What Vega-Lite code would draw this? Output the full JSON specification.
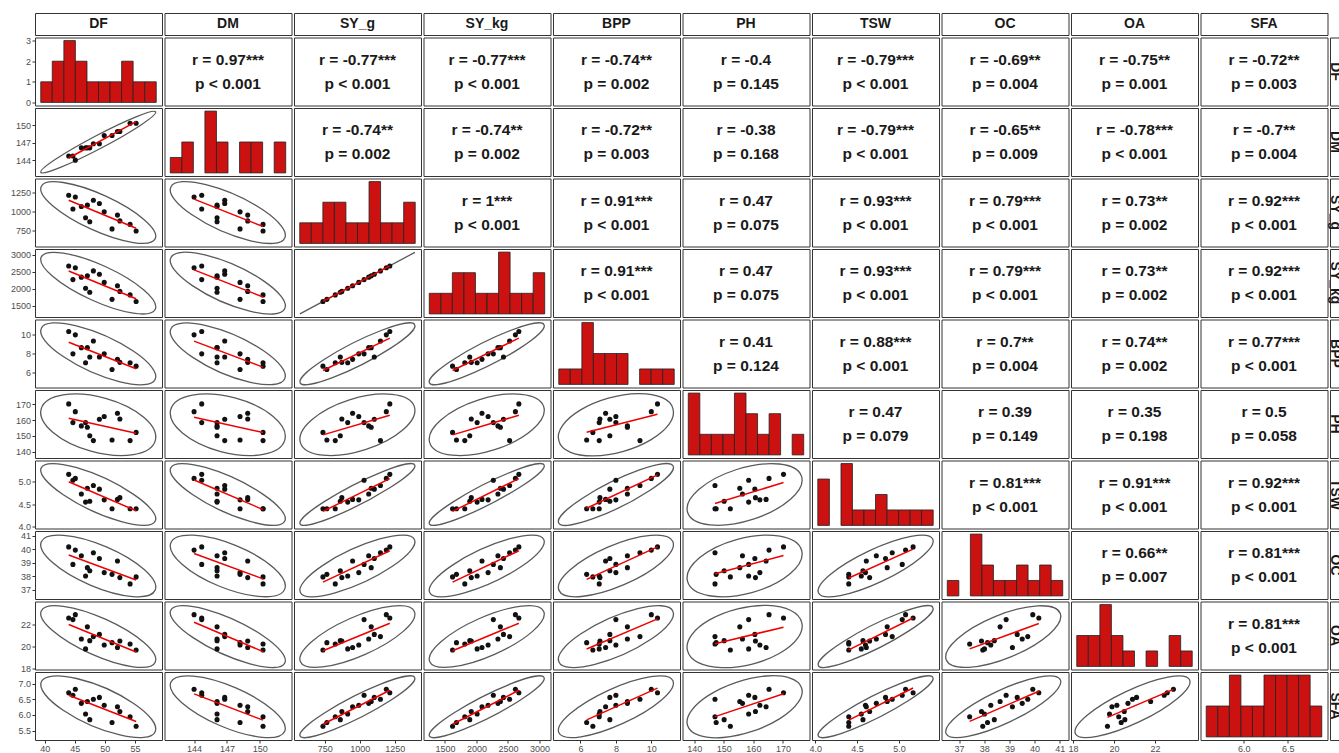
{
"$schema": "https://vega.github.io/schema/vega-lite/v6.json",
"background": "white",
"padding": {"left": 9, "top": 12, "right": 0, "bottom": 0},
"bounds": "flush",
"data": {"values": [
{"DF":44.0,"DM":144.7,"SY_g":1215,"SY_kg":2673,"BPP":10.35,"PH":170.2,"TSW":5.17,"OC":40.17,"OA":22.6,"SFA":6.71},
{"DF":44.7,"DM":144.7,"SY_g":1031,"SY_kg":2268,"BPP":8.0,"PH":158.4,"TSW":5.04,"OC":38.87,"OA":22.45,"SFA":6.63},
{"DF":45.1,"DM":144.0,"SY_g":1190,"SY_kg":2618,"BPP":10.0,"PH":165.3,"TSW":5.08,"OC":39.93,"OA":22.9,"SFA":6.82},
{"DF":46.1,"DM":146.1,"SY_g":1064,"SY_kg":2341,"BPP":8.65,"PH":156.3,"TSW":4.73,"OC":39.51,"OA":20.68,"SFA":6.37},
{"DF":46.8,"DM":146.1,"SY_g":914,"SY_kg":2011,"BPP":7.06,"PH":158.4,"TSW":4.55,"OC":38.01,"OA":19.78,"SFA":6.03},
{"DF":47.1,"DM":146.1,"SY_g":1082,"SY_kg":2380,"BPP":8.65,"PH":155.4,"TSW":4.86,"OC":38.63,"OA":21.79,"SFA":6.43},
{"DF":47.5,"DM":146.1,"SY_g":861,"SY_kg":1894,"BPP":7.66,"PH":150.1,"TSW":4.57,"OC":38.4,"OA":20.53,"SFA":5.85},
{"DF":48.1,"DM":146.8,"SY_g":1148,"SY_kg":2526,"BPP":9.36,"PH":147.0,"TSW":4.92,"OC":39.73,"OA":20.9,"SFA":6.5},
{"DF":49.1,"DM":146.8,"SY_g":1104,"SY_kg":2429,"BPP":7.66,"PH":160.5,"TSW":4.84,"OC":39.31,"OA":21.1,"SFA":6.56},
{"DF":49.9,"DM":148.2,"SY_g":993,"SY_kg":2185,"BPP":8.0,"PH":162.2,"TSW":4.6,"OC":38.26,"OA":20.14,"SFA":6.31},
{"DF":51.2,"DM":148.2,"SY_g":765,"SY_kg":1683,"BPP":6.35,"PH":147.4,"TSW":4.4,"OC":38.13,"OA":20.35,"SFA":5.76},
{"DF":52.1,"DM":148.9,"SY_g":949,"SY_kg":2088,"BPP":7.42,"PH":164.3,"TSW":4.61,"OC":39.12,"OA":19.9,"SFA":6.26},
{"DF":52.5,"DM":148.9,"SY_g":872,"SY_kg":1918,"BPP":7.1,"PH":160.7,"TSW":4.65,"OC":37.89,"OA":20.5,"SFA":6.11},
{"DF":54.2,"DM":150.3,"SY_g":825,"SY_kg":1815,"BPP":7.06,"PH":147.0,"TSW":4.4,"OC":37.42,"OA":20.23,"SFA":5.94},
{"DF":55.2,"DM":150.3,"SY_g":737,"SY_kg":1621,"BPP":6.7,"PH":152.2,"TSW":4.4,"OC":37.94,"OA":19.68,"SFA":5.64}
]},
"datasets": {"hist": [
{"v":"DF","a":43.38,"b":44.62,"n":1},{"v":"DF","a":44.62,"b":45.87,"n":2},{"v":"DF","a":45.87,"b":47.11,"n":3},{"v":"DF","a":47.11,"b":48.36,"n":2},{"v":"DF","a":48.36,"b":49.6,"n":1},{"v":"DF","a":49.6,"b":50.84,"n":1},{"v":"DF","a":50.84,"b":52.09,"n":1},{"v":"DF","a":52.09,"b":53.33,"n":2},{"v":"DF","a":53.33,"b":54.58,"n":1},{"v":"DF","a":54.58,"b":55.82,"n":1},
{"v":"DM","a":143.65,"b":144.35,"n":1},{"v":"DM","a":144.35,"b":145.05,"n":2},{"v":"DM","a":145.75,"b":146.45,"n":4},{"v":"DM","a":146.45,"b":147.15,"n":2},{"v":"DM","a":147.85,"b":148.55,"n":2},{"v":"DM","a":148.55,"b":149.25,"n":2},{"v":"DM","a":149.95,"b":150.65,"n":2},
{"v":"SY_g","a":710.4,"b":763.6,"n":1},{"v":"SY_g","a":763.6,"b":816.7,"n":1},{"v":"SY_g","a":816.7,"b":869.8,"n":2},{"v":"SY_g","a":869.8,"b":922.9,"n":2},{"v":"SY_g","a":922.9,"b":976.1,"n":1},{"v":"SY_g","a":976.1,"b":1029.2,"n":1},{"v":"SY_g","a":1029.2,"b":1082.3,"n":3},{"v":"SY_g","a":1082.3,"b":1135.4,"n":1},{"v":"SY_g","a":1135.4,"b":1188.6,"n":1},{"v":"SY_g","a":1188.6,"b":1241.7,"n":2},
{"v":"SY_kg","a":1562.6,"b":1679.5,"n":1},{"v":"SY_kg","a":1679.5,"b":1796.3,"n":1},{"v":"SY_kg","a":1796.3,"b":1913.2,"n":2},{"v":"SY_kg","a":1913.2,"b":2030.1,"n":2},{"v":"SY_kg","a":2030.1,"b":2147,"n":1},{"v":"SY_kg","a":2147,"b":2263.9,"n":1},{"v":"SY_kg","a":2263.9,"b":2380.8,"n":3},{"v":"SY_kg","a":2380.8,"b":2497.6,"n":1},{"v":"SY_kg","a":2497.6,"b":2614.5,"n":1},{"v":"SY_kg","a":2614.5,"b":2731.4,"n":2},
{"v":"BPP","a":6.128,"b":6.572,"n":1},{"v":"BPP","a":6.572,"b":7.017,"n":1},{"v":"BPP","a":7.017,"b":7.461,"n":4},{"v":"BPP","a":7.461,"b":7.906,"n":2},{"v":"BPP","a":7.906,"b":8.35,"n":2},{"v":"BPP","a":8.35,"b":8.794,"n":2},{"v":"BPP","a":9.239,"b":9.683,"n":1},{"v":"BPP","a":9.683,"b":10.128,"n":1},{"v":"BPP","a":10.128,"b":10.572,"n":1},
{"v":"PH","a":145.71,"b":148.29,"n":3},{"v":"PH","a":148.29,"b":150.87,"n":1},{"v":"PH","a":150.87,"b":153.44,"n":1},{"v":"PH","a":153.44,"b":156.02,"n":1},{"v":"PH","a":156.02,"b":158.6,"n":3},{"v":"PH","a":158.6,"b":161.18,"n":2},{"v":"PH","a":161.18,"b":163.76,"n":1},{"v":"PH","a":163.76,"b":166.33,"n":2},{"v":"PH","a":168.91,"b":171.49,"n":1},
{"v":"TSW","a":4.357,"b":4.443,"n":3},{"v":"TSW","a":4.529,"b":4.614,"n":4},{"v":"TSW","a":4.614,"b":4.7,"n":1},{"v":"TSW","a":4.7,"b":4.785,"n":1},{"v":"TSW","a":4.785,"b":4.871,"n":2},{"v":"TSW","a":4.871,"b":4.956,"n":1},{"v":"TSW","a":4.956,"b":5.042,"n":1},{"v":"TSW","a":5.042,"b":5.127,"n":1},{"v":"TSW","a":5.127,"b":5.213,"n":1},
{"v":"OC","a":37.267,"b":37.573,"n":1},{"v":"OC","a":37.878,"b":38.184,"n":4},{"v":"OC","a":38.184,"b":38.489,"n":2},{"v":"OC","a":38.489,"b":38.795,"n":1},{"v":"OC","a":38.795,"b":39.101,"n":1},{"v":"OC","a":39.101,"b":39.406,"n":2},{"v":"OC","a":39.406,"b":39.712,"n":1},{"v":"OC","a":39.712,"b":40.017,"n":2},{"v":"OC","a":40.017,"b":40.323,"n":1},
{"v":"OA","a":19.501,"b":19.859,"n":2},{"v":"OA","a":19.859,"b":20.217,"n":2},{"v":"OA","a":20.217,"b":20.574,"n":4},{"v":"OA","a":20.574,"b":20.932,"n":2},{"v":"OA","a":20.932,"b":21.29,"n":1},{"v":"OA","a":21.648,"b":22.006,"n":1},{"v":"OA","a":22.363,"b":22.721,"n":2},{"v":"OA","a":22.721,"b":23.079,"n":1},
{"v":"SFA","a":5.574,"b":5.705,"n":1},{"v":"SFA","a":5.705,"b":5.837,"n":1},{"v":"SFA","a":5.837,"b":5.968,"n":2},{"v":"SFA","a":5.968,"b":6.099,"n":1},{"v":"SFA","a":6.099,"b":6.23,"n":1},{"v":"SFA","a":6.23,"b":6.361,"n":2},{"v":"SFA","a":6.361,"b":6.492,"n":2},{"v":"SFA","a":6.492,"b":6.623,"n":2},{"v":"SFA","a":6.623,"b":6.754,"n":2},{"v":"SFA","a":6.754,"b":6.886,"n":1}
]},
"columns": 11,
"spacing": {"row": 2.5, "column": 2.5},
"concat": [
{"width":127,"height":22,"data":{"values":[{"t":"DF"}]},"mark":{"type":"text","fontSize":14,"dy":0},"encoding":{"text":{"field":"t"},"x":{"datum":0,"type":"quantitative","scale":{"domain":[-1,1]},"axis":null},"y":{"datum":0,"type":"quantitative","scale":{"domain":[-1,1]},"axis":null}}},
{"width":127,"height":22,"data":{"values":[{"t":"DM"}]},"mark":{"type":"text","fontSize":14,"dy":0},"encoding":{"text":{"field":"t"},"x":{"datum":0,"type":"quantitative","scale":{"domain":[-1,1]},"axis":null},"y":{"datum":0,"type":"quantitative","scale":{"domain":[-1,1]},"axis":null}}},
{"width":127,"height":22,"data":{"values":[{"t":"SY_g"}]},"mark":{"type":"text","fontSize":14,"dy":0},"encoding":{"text":{"field":"t"},"x":{"datum":0,"type":"quantitative","scale":{"domain":[-1,1]},"axis":null},"y":{"datum":0,"type":"quantitative","scale":{"domain":[-1,1]},"axis":null}}},
{"width":127,"height":22,"data":{"values":[{"t":"SY_kg"}]},"mark":{"type":"text","fontSize":14,"dy":0},"encoding":{"text":{"field":"t"},"x":{"datum":0,"type":"quantitative","scale":{"domain":[-1,1]},"axis":null},"y":{"datum":0,"type":"quantitative","scale":{"domain":[-1,1]},"axis":null}}},
{"width":127,"height":22,"data":{"values":[{"t":"BPP"}]},"mark":{"type":"text","fontSize":14,"dy":0},"encoding":{"text":{"field":"t"},"x":{"datum":0,"type":"quantitative","scale":{"domain":[-1,1]},"axis":null},"y":{"datum":0,"type":"quantitative","scale":{"domain":[-1,1]},"axis":null}}},
{"width":127,"height":22,"data":{"values":[{"t":"PH"}]},"mark":{"type":"text","fontSize":14,"dy":0},"encoding":{"text":{"field":"t"},"x":{"datum":0,"type":"quantitative","scale":{"domain":[-1,1]},"axis":null},"y":{"datum":0,"type":"quantitative","scale":{"domain":[-1,1]},"axis":null}}},
{"width":127,"height":22,"data":{"values":[{"t":"TSW"}]},"mark":{"type":"text","fontSize":14,"dy":0},"encoding":{"text":{"field":"t"},"x":{"datum":0,"type":"quantitative","scale":{"domain":[-1,1]},"axis":null},"y":{"datum":0,"type":"quantitative","scale":{"domain":[-1,1]},"axis":null}}},
{"width":127,"height":22,"data":{"values":[{"t":"OC"}]},"mark":{"type":"text","fontSize":14,"dy":0},"encoding":{"text":{"field":"t"},"x":{"datum":0,"type":"quantitative","scale":{"domain":[-1,1]},"axis":null},"y":{"datum":0,"type":"quantitative","scale":{"domain":[-1,1]},"axis":null}}},
{"width":127,"height":22,"data":{"values":[{"t":"OA"}]},"mark":{"type":"text","fontSize":14,"dy":0},"encoding":{"text":{"field":"t"},"x":{"datum":0,"type":"quantitative","scale":{"domain":[-1,1]},"axis":null},"y":{"datum":0,"type":"quantitative","scale":{"domain":[-1,1]},"axis":null}}},
{"width":127,"height":22,"data":{"values":[{"t":"SFA"}]},"mark":{"type":"text","fontSize":14,"dy":0},"encoding":{"text":{"field":"t"},"x":{"datum":0,"type":"quantitative","scale":{"domain":[-1,1]},"axis":null},"y":{"datum":0,"type":"quantitative","scale":{"domain":[-1,1]},"axis":null}}},
{"width":9,"height":22,"view":{"stroke":null},"data":{"values":[{"t":""}]},"mark":{"type":"text","dy":0,"fontSize":1},"encoding":{"text":{"field":"t"}}},

{"data":{"name":"hist"},"transform":[{"filter":"datum.v=='DF'"}],"mark":"rect","encoding":{"x":{"field":"a","type":"quantitative","scale":{"domain":[42.76,56.44]},"axis":null},"x2":{"field":"b"},"y":{"field":"n","type":"quantitative","scale":{"domain":[-0.15,3.15]},"axis":{"values":[0,1,2,3],"title":null}},"y2":{"datum":0}}},
{"data":{"values":[{"t":"r = 0.97***\np < 0.001"}]},"mark":"text","encoding":{"text":{"field":"t"},"x":{"datum":0,"type":"quantitative","scale":{"domain":[-1,1]},"axis":null},"y":{"datum":0,"type":"quantitative","scale":{"domain":[-1,1]},"axis":null}}},
{"data":{"values":[{"t":"r = -0.77***\np < 0.001"}]},"mark":"text","encoding":{"text":{"field":"t"},"x":{"datum":0,"type":"quantitative","scale":{"domain":[-1,1]},"axis":null},"y":{"datum":0,"type":"quantitative","scale":{"domain":[-1,1]},"axis":null}}},
{"data":{"values":[{"t":"r = -0.77***\np < 0.001"}]},"mark":"text","encoding":{"text":{"field":"t"},"x":{"datum":0,"type":"quantitative","scale":{"domain":[-1,1]},"axis":null},"y":{"datum":0,"type":"quantitative","scale":{"domain":[-1,1]},"axis":null}}},
{"data":{"values":[{"t":"r = -0.74**\np = 0.002"}]},"mark":"text","encoding":{"text":{"field":"t"},"x":{"datum":0,"type":"quantitative","scale":{"domain":[-1,1]},"axis":null},"y":{"datum":0,"type":"quantitative","scale":{"domain":[-1,1]},"axis":null}}},
{"data":{"values":[{"t":"r = -0.4\np = 0.145"}]},"mark":"text","encoding":{"text":{"field":"t"},"x":{"datum":0,"type":"quantitative","scale":{"domain":[-1,1]},"axis":null},"y":{"datum":0,"type":"quantitative","scale":{"domain":[-1,1]},"axis":null}}},
{"data":{"values":[{"t":"r = -0.79***\np < 0.001"}]},"mark":"text","encoding":{"text":{"field":"t"},"x":{"datum":0,"type":"quantitative","scale":{"domain":[-1,1]},"axis":null},"y":{"datum":0,"type":"quantitative","scale":{"domain":[-1,1]},"axis":null}}},
{"data":{"values":[{"t":"r = -0.69**\np = 0.004"}]},"mark":"text","encoding":{"text":{"field":"t"},"x":{"datum":0,"type":"quantitative","scale":{"domain":[-1,1]},"axis":null},"y":{"datum":0,"type":"quantitative","scale":{"domain":[-1,1]},"axis":null}}},
{"data":{"values":[{"t":"r = -0.75**\np = 0.001"}]},"mark":"text","encoding":{"text":{"field":"t"},"x":{"datum":0,"type":"quantitative","scale":{"domain":[-1,1]},"axis":null},"y":{"datum":0,"type":"quantitative","scale":{"domain":[-1,1]},"axis":null}}},
{"data":{"values":[{"t":"r = -0.72**\np = 0.003"}]},"mark":"text","encoding":{"text":{"field":"t"},"x":{"datum":0,"type":"quantitative","scale":{"domain":[-1,1]},"axis":null},"y":{"datum":0,"type":"quantitative","scale":{"domain":[-1,1]},"axis":null}}},
{"width":9,"data":{"values":[{"t":"DF"}]},"mark":{"type":"text","fontSize":14,"angle":90,"dy":0},"encoding":{"text":{"field":"t"},"x":{"datum":0,"type":"quantitative","scale":{"domain":[-1,1]},"axis":null},"y":{"datum":0,"type":"quantitative","scale":{"domain":[-1,1]},"axis":null}}},

{"encoding":{"x":{"field":"DF","type":"quantitative","scale":{"domain":[38.4,59.5]},"axis":null},"y":{"field":"DM","type":"quantitative","scale":{"domain":[141.3,152.9]},"axis":{"values":[144,147,150],"format":"d","title":null}}},"layer":[{"transform":[{"aggregate":[{"op":"mean","field":"DF","as":"DF"},{"op":"mean","field":"DM","as":"DM"}]}],"mark":{"type":"point","shape":"M57.42 -30.23A64.89 6.65 -27.77 1 0 -57.42 30.23A64.89 6.65 -27.77 1 0 57.42 -30.23Z"}},{"mark":"circle"},{"transform":[{"regression":"DM","on":"DF"}],"mark":"line","encoding":{}}]},
{"data":{"name":"hist"},"transform":[{"filter":"datum.v=='DM'"}],"mark":"rect","encoding":{"x":{"field":"a","type":"quantitative","scale":{"domain":[143.3,151.0]},"axis":null},"x2":{"field":"b"},"y":{"field":"n","type":"quantitative","scale":{"domain":[-0.2,4.2]},"axis":null},"y2":{"datum":0}}},
{"data":{"values":[{"t":"r = -0.74**\np = 0.002"}]},"mark":"text","encoding":{"text":{"field":"t"},"x":{"datum":0,"type":"quantitative","scale":{"domain":[-1,1]},"axis":null},"y":{"datum":0,"type":"quantitative","scale":{"domain":[-1,1]},"axis":null}}},
{"data":{"values":[{"t":"r = -0.74**\np = 0.002"}]},"mark":"text","encoding":{"text":{"field":"t"},"x":{"datum":0,"type":"quantitative","scale":{"domain":[-1,1]},"axis":null},"y":{"datum":0,"type":"quantitative","scale":{"domain":[-1,1]},"axis":null}}},
{"data":{"values":[{"t":"r = -0.72**\np = 0.003"}]},"mark":"text","encoding":{"text":{"field":"t"},"x":{"datum":0,"type":"quantitative","scale":{"domain":[-1,1]},"axis":null},"y":{"datum":0,"type":"quantitative","scale":{"domain":[-1,1]},"axis":null}}},
{"data":{"values":[{"t":"r = -0.38\np = 0.168"}]},"mark":"text","encoding":{"text":{"field":"t"},"x":{"datum":0,"type":"quantitative","scale":{"domain":[-1,1]},"axis":null},"y":{"datum":0,"type":"quantitative","scale":{"domain":[-1,1]},"axis":null}}},
{"data":{"values":[{"t":"r = -0.79***\np < 0.001"}]},"mark":"text","encoding":{"text":{"field":"t"},"x":{"datum":0,"type":"quantitative","scale":{"domain":[-1,1]},"axis":null},"y":{"datum":0,"type":"quantitative","scale":{"domain":[-1,1]},"axis":null}}},
{"data":{"values":[{"t":"r = -0.65**\np = 0.009"}]},"mark":"text","encoding":{"text":{"field":"t"},"x":{"datum":0,"type":"quantitative","scale":{"domain":[-1,1]},"axis":null},"y":{"datum":0,"type":"quantitative","scale":{"domain":[-1,1]},"axis":null}}},
{"data":{"values":[{"t":"r = -0.78***\np < 0.001"}]},"mark":"text","encoding":{"text":{"field":"t"},"x":{"datum":0,"type":"quantitative","scale":{"domain":[-1,1]},"axis":null},"y":{"datum":0,"type":"quantitative","scale":{"domain":[-1,1]},"axis":null}}},
{"data":{"values":[{"t":"r = -0.7**\np = 0.004"}]},"mark":"text","encoding":{"text":{"field":"t"},"x":{"datum":0,"type":"quantitative","scale":{"domain":[-1,1]},"axis":null},"y":{"datum":0,"type":"quantitative","scale":{"domain":[-1,1]},"axis":null}}},
{"width":9,"data":{"values":[{"t":"DM"}]},"mark":{"type":"text","fontSize":14,"angle":90,"dy":0},"encoding":{"text":{"field":"t"},"x":{"datum":0,"type":"quantitative","scale":{"domain":[-1,1]},"axis":null},"y":{"datum":0,"type":"quantitative","scale":{"domain":[-1,1]},"axis":null}}},

{"encoding":{"x":{"field":"DF","type":"quantitative","scale":{"domain":[38.4,59.5]},"axis":null},"y":{"field":"SY_g","type":"quantitative","scale":{"domain":[530,1438]},"axis":{"values":[750,1000,1250],"format":"d","title":null}}},"layer":[{"transform":[{"aggregate":[{"op":"mean","field":"DF","as":"DF"},{"op":"mean","field":"SY_g","as":"SY_g"}]}],"mark":{"type":"point","shape":"M57.01 26.08A62.69 18.03 24.58 1 0 -57.01 -26.08A62.69 18.03 24.58 1 0 57.01 26.08Z"}},{"mark":"circle"},{"transform":[{"regression":"SY_g","on":"DF"}],"mark":"line","encoding":{}}]},
{"encoding":{"x":{"field":"DM","type":"quantitative","scale":{"domain":[141.3,152.9]},"axis":null},"y":{"field":"SY_g","type":"quantitative","scale":{"domain":[530,1438]},"axis":null}},"layer":[{"transform":[{"aggregate":[{"op":"mean","field":"DM","as":"DM"},{"op":"mean","field":"SY_g","as":"SY_g"}]}],"mark":{"type":"point","shape":"M56.97 25.38A62.37 19.1 24.02 1 0 -56.97 -25.38A62.37 19.1 24.02 1 0 56.97 25.38Z"}},{"mark":"circle"},{"transform":[{"regression":"SY_g","on":"DM"}],"mark":"line","encoding":{}}]},
{"data":{"name":"hist"},"transform":[{"filter":"datum.v=='SY_g'"}],"mark":"rect","encoding":{"x":{"field":"a","type":"quantitative","scale":{"domain":[683.9,1268.3]},"axis":null},"x2":{"field":"b"},"y":{"field":"n","type":"quantitative","scale":{"domain":[-0.15,3.15]},"axis":null},"y2":{"datum":0}}},
{"data":{"values":[{"t":"r = 1***\np < 0.001"}]},"mark":"text","encoding":{"text":{"field":"t"},"x":{"datum":0,"type":"quantitative","scale":{"domain":[-1,1]},"axis":null},"y":{"datum":0,"type":"quantitative","scale":{"domain":[-1,1]},"axis":null}}},
{"data":{"values":[{"t":"r = 0.91***\np < 0.001"}]},"mark":"text","encoding":{"text":{"field":"t"},"x":{"datum":0,"type":"quantitative","scale":{"domain":[-1,1]},"axis":null},"y":{"datum":0,"type":"quantitative","scale":{"domain":[-1,1]},"axis":null}}},
{"data":{"values":[{"t":"r = 0.47\np = 0.075"}]},"mark":"text","encoding":{"text":{"field":"t"},"x":{"datum":0,"type":"quantitative","scale":{"domain":[-1,1]},"axis":null},"y":{"datum":0,"type":"quantitative","scale":{"domain":[-1,1]},"axis":null}}},
{"data":{"values":[{"t":"r = 0.93***\np < 0.001"}]},"mark":"text","encoding":{"text":{"field":"t"},"x":{"datum":0,"type":"quantitative","scale":{"domain":[-1,1]},"axis":null},"y":{"datum":0,"type":"quantitative","scale":{"domain":[-1,1]},"axis":null}}},
{"data":{"values":[{"t":"r = 0.79***\np < 0.001"}]},"mark":"text","encoding":{"text":{"field":"t"},"x":{"datum":0,"type":"quantitative","scale":{"domain":[-1,1]},"axis":null},"y":{"datum":0,"type":"quantitative","scale":{"domain":[-1,1]},"axis":null}}},
{"data":{"values":[{"t":"r = 0.73**\np = 0.002"}]},"mark":"text","encoding":{"text":{"field":"t"},"x":{"datum":0,"type":"quantitative","scale":{"domain":[-1,1]},"axis":null},"y":{"datum":0,"type":"quantitative","scale":{"domain":[-1,1]},"axis":null}}},
{"data":{"values":[{"t":"r = 0.92***\np < 0.001"}]},"mark":"text","encoding":{"text":{"field":"t"},"x":{"datum":0,"type":"quantitative","scale":{"domain":[-1,1]},"axis":null},"y":{"datum":0,"type":"quantitative","scale":{"domain":[-1,1]},"axis":null}}},
{"width":9,"data":{"values":[{"t":"SY_g"}]},"mark":{"type":"text","fontSize":14,"angle":90,"dy":0},"encoding":{"text":{"field":"t"},"x":{"datum":0,"type":"quantitative","scale":{"domain":[-1,1]},"axis":null},"y":{"datum":0,"type":"quantitative","scale":{"domain":[-1,1]},"axis":null}}},

{"encoding":{"x":{"field":"DF","type":"quantitative","scale":{"domain":[38.4,59.5]},"axis":null},"y":{"field":"SY_kg","type":"quantitative","scale":{"domain":[1160,3175]},"axis":{"values":[1500,2000,2500,3000],"format":"d","title":null}}},"layer":[{"transform":[{"aggregate":[{"op":"mean","field":"DF","as":"DF"},{"op":"mean","field":"SY_kg","as":"SY_kg"}]}],"mark":{"type":"point","shape":"M57.01 26.08A62.69 18.03 24.58 1 0 -57.01 -26.08A62.69 18.03 24.58 1 0 57.01 26.08Z"}},{"mark":"circle"},{"transform":[{"regression":"SY_kg","on":"DF"}],"mark":"line","encoding":{}}]},
{"encoding":{"x":{"field":"DM","type":"quantitative","scale":{"domain":[141.3,152.9]},"axis":null},"y":{"field":"SY_kg","type":"quantitative","scale":{"domain":[1160,3175]},"axis":null}},"layer":[{"transform":[{"aggregate":[{"op":"mean","field":"DM","as":"DM"},{"op":"mean","field":"SY_kg","as":"SY_kg"}]}],"mark":{"type":"point","shape":"M56.97 25.38A62.37 19.1 24.02 1 0 -56.97 -25.38A62.37 19.1 24.02 1 0 56.97 25.38Z"}},{"mark":"circle"},{"transform":[{"regression":"SY_kg","on":"DM"}],"mark":"line","encoding":{}}]},
{"encoding":{"x":{"field":"SY_g","type":"quantitative","scale":{"domain":[530,1438]},"axis":null},"y":{"field":"SY_kg","type":"quantitative","scale":{"domain":[1160,3175]},"axis":null}},"layer":[{"transform":[{"aggregate":[{"op":"mean","field":"SY_g","as":"SY_g"},{"op":"mean","field":"SY_kg","as":"SY_kg"}]}],"mark":{"type":"point","shape":"M-57.5 30.8L57.5 -30.8"}},{"mark":"circle"},{"transform":[{"regression":"SY_kg","on":"SY_g"}],"mark":"line","encoding":{}}]},
{"data":{"name":"hist"},"transform":[{"filter":"datum.v=='SY_kg'"}],"mark":"rect","encoding":{"x":{"field":"a","type":"quantitative","scale":{"domain":[1504.2,2789.8]},"axis":null},"x2":{"field":"b"},"y":{"field":"n","type":"quantitative","scale":{"domain":[-0.15,3.15]},"axis":null},"y2":{"datum":0}}},
{"data":{"values":[{"t":"r = 0.91***\np < 0.001"}]},"mark":"text","encoding":{"text":{"field":"t"},"x":{"datum":0,"type":"quantitative","scale":{"domain":[-1,1]},"axis":null},"y":{"datum":0,"type":"quantitative","scale":{"domain":[-1,1]},"axis":null}}},
{"data":{"values":[{"t":"r = 0.47\np = 0.075"}]},"mark":"text","encoding":{"text":{"field":"t"},"x":{"datum":0,"type":"quantitative","scale":{"domain":[-1,1]},"axis":null},"y":{"datum":0,"type":"quantitative","scale":{"domain":[-1,1]},"axis":null}}},
{"data":{"values":[{"t":"r = 0.93***\np < 0.001"}]},"mark":"text","encoding":{"text":{"field":"t"},"x":{"datum":0,"type":"quantitative","scale":{"domain":[-1,1]},"axis":null},"y":{"datum":0,"type":"quantitative","scale":{"domain":[-1,1]},"axis":null}}},
{"data":{"values":[{"t":"r = 0.79***\np < 0.001"}]},"mark":"text","encoding":{"text":{"field":"t"},"x":{"datum":0,"type":"quantitative","scale":{"domain":[-1,1]},"axis":null},"y":{"datum":0,"type":"quantitative","scale":{"domain":[-1,1]},"axis":null}}},
{"data":{"values":[{"t":"r = 0.73**\np = 0.002"}]},"mark":"text","encoding":{"text":{"field":"t"},"x":{"datum":0,"type":"quantitative","scale":{"domain":[-1,1]},"axis":null},"y":{"datum":0,"type":"quantitative","scale":{"domain":[-1,1]},"axis":null}}},
{"data":{"values":[{"t":"r = 0.92***\np < 0.001"}]},"mark":"text","encoding":{"text":{"field":"t"},"x":{"datum":0,"type":"quantitative","scale":{"domain":[-1,1]},"axis":null},"y":{"datum":0,"type":"quantitative","scale":{"domain":[-1,1]},"axis":null}}},
{"width":9,"data":{"values":[{"t":"SY_kg"}]},"mark":{"type":"text","fontSize":14,"angle":90,"dy":0},"encoding":{"text":{"field":"t"},"x":{"datum":0,"type":"quantitative","scale":{"domain":[-1,1]},"axis":null},"y":{"datum":0,"type":"quantitative","scale":{"domain":[-1,1]},"axis":null}}},

{"encoding":{"x":{"field":"DF","type":"quantitative","scale":{"domain":[38.4,59.5]},"axis":null},"y":{"field":"BPP","type":"quantitative","scale":{"domain":[4.45,11.62]},"axis":{"values":[6,8,10],"title":null}}},"layer":[{"transform":[{"aggregate":[{"op":"mean","field":"DF","as":"DF"},{"op":"mean","field":"BPP","as":"BPP"}]}],"mark":{"type":"point","shape":"M56.97 25.38A62.37 19.1 24.02 1 0 -56.97 -25.38A62.37 19.1 24.02 1 0 56.97 25.38Z"}},{"mark":"circle"},{"transform":[{"regression":"BPP","on":"DF"}],"mark":"line","encoding":{}}]},
{"encoding":{"x":{"field":"DM","type":"quantitative","scale":{"domain":[141.3,152.9]},"axis":null},"y":{"field":"BPP","type":"quantitative","scale":{"domain":[4.45,11.62]},"axis":null}},"layer":[{"transform":[{"aggregate":[{"op":"mean","field":"DM","as":"DM"},{"op":"mean","field":"BPP","as":"BPP"}]}],"mark":{"type":"point","shape":"M56.95 24.91A62.16 19.78 23.63 1 0 -56.95 -24.91A62.16 19.78 23.63 1 0 56.95 24.91Z"}},{"mark":"circle"},{"transform":[{"regression":"BPP","on":"DM"}],"mark":"line","encoding":{}}]},
{"encoding":{"x":{"field":"SY_g","type":"quantitative","scale":{"domain":[530,1438]},"axis":null},"y":{"field":"BPP","type":"quantitative","scale":{"domain":[4.45,11.62]},"axis":null}},"layer":[{"transform":[{"aggregate":[{"op":"mean","field":"SY_g","as":"SY_g"},{"op":"mean","field":"BPP","as":"BPP"}]}],"mark":{"type":"point","shape":"M57.26 -29.07A64.22 11.45 -26.92 1 0 -57.26 29.07A64.22 11.45 -26.92 1 0 57.26 -29.07Z"}},{"mark":"circle"},{"transform":[{"regression":"BPP","on":"SY_g"}],"mark":"line","encoding":{}}]},
{"encoding":{"x":{"field":"SY_kg","type":"quantitative","scale":{"domain":[1160,3175]},"axis":null},"y":{"field":"BPP","type":"quantitative","scale":{"domain":[4.45,11.62]},"axis":null}},"layer":[{"transform":[{"aggregate":[{"op":"mean","field":"SY_kg","as":"SY_kg"},{"op":"mean","field":"BPP","as":"BPP"}]}],"mark":{"type":"point","shape":"M57.26 -29.07A64.22 11.45 -26.92 1 0 -57.26 29.07A64.22 11.45 -26.92 1 0 57.26 -29.07Z"}},{"mark":"circle"},{"transform":[{"regression":"BPP","on":"SY_kg"}],"mark":"line","encoding":{}}]},
{"data":{"name":"hist"},"transform":[{"filter":"datum.v=='BPP'"}],"mark":"rect","encoding":{"x":{"field":"a","type":"quantitative","scale":{"domain":[5.906,10.794]},"axis":null},"x2":{"field":"b"},"y":{"field":"n","type":"quantitative","scale":{"domain":[-0.2,4.2]},"axis":null},"y2":{"datum":0}}},
{"data":{"values":[{"t":"r = 0.41\np = 0.124"}]},"mark":"text","encoding":{"text":{"field":"t"},"x":{"datum":0,"type":"quantitative","scale":{"domain":[-1,1]},"axis":null},"y":{"datum":0,"type":"quantitative","scale":{"domain":[-1,1]},"axis":null}}},
{"data":{"values":[{"t":"r = 0.88***\np < 0.001"}]},"mark":"text","encoding":{"text":{"field":"t"},"x":{"datum":0,"type":"quantitative","scale":{"domain":[-1,1]},"axis":null},"y":{"datum":0,"type":"quantitative","scale":{"domain":[-1,1]},"axis":null}}},
{"data":{"values":[{"t":"r = 0.7**\np = 0.004"}]},"mark":"text","encoding":{"text":{"field":"t"},"x":{"datum":0,"type":"quantitative","scale":{"domain":[-1,1]},"axis":null},"y":{"datum":0,"type":"quantitative","scale":{"domain":[-1,1]},"axis":null}}},
{"data":{"values":[{"t":"r = 0.74**\np = 0.002"}]},"mark":"text","encoding":{"text":{"field":"t"},"x":{"datum":0,"type":"quantitative","scale":{"domain":[-1,1]},"axis":null},"y":{"datum":0,"type":"quantitative","scale":{"domain":[-1,1]},"axis":null}}},
{"data":{"values":[{"t":"r = 0.77***\np < 0.001"}]},"mark":"text","encoding":{"text":{"field":"t"},"x":{"datum":0,"type":"quantitative","scale":{"domain":[-1,1]},"axis":null},"y":{"datum":0,"type":"quantitative","scale":{"domain":[-1,1]},"axis":null}}},
{"width":9,"data":{"values":[{"t":"BPP"}]},"mark":{"type":"text","fontSize":14,"angle":90,"dy":0},"encoding":{"text":{"field":"t"},"x":{"datum":0,"type":"quantitative","scale":{"domain":[-1,1]},"axis":null},"y":{"datum":0,"type":"quantitative","scale":{"domain":[-1,1]},"axis":null}}},

{"encoding":{"x":{"field":"DF","type":"quantitative","scale":{"domain":[38.4,59.5]},"axis":null},"y":{"field":"PH","type":"quantitative","scale":{"domain":[136,179]},"axis":{"values":[140,150,160,170],"format":"d","title":null}}},"layer":[{"transform":[{"aggregate":[{"op":"mean","field":"DF","as":"DF"},{"op":"mean","field":"PH","as":"PH"}]}],"mark":{"type":"point","shape":"M57.03 15.81A59.18 27.43 15.5 1 0 -57.03 -15.81A59.18 27.43 15.5 1 0 57.03 15.81Z"}},{"mark":"circle"},{"transform":[{"regression":"PH","on":"DF"}],"mark":"line","encoding":{}}]},
{"encoding":{"x":{"field":"DM","type":"quantitative","scale":{"domain":[141.3,152.9]},"axis":null},"y":{"field":"PH","type":"quantitative","scale":{"domain":[136,179]},"axis":null}},"layer":[{"transform":[{"aggregate":[{"op":"mean","field":"DM","as":"DM"},{"op":"mean","field":"PH","as":"PH"}]}],"mark":{"type":"point","shape":"M57.06 15.14A59.03 27.76 14.86 1 0 -57.06 -15.14A59.03 27.76 14.86 1 0 57.06 15.14Z"}},{"mark":"circle"},{"transform":[{"regression":"PH","on":"DM"}],"mark":"line","encoding":{}}]},
{"encoding":{"x":{"field":"SY_g","type":"quantitative","scale":{"domain":[530,1438]},"axis":null},"y":{"field":"PH","type":"quantitative","scale":{"domain":[136,179]},"axis":null}},"layer":[{"transform":[{"aggregate":[{"op":"mean","field":"SY_g","as":"SY_g"},{"op":"mean","field":"PH","as":"PH"}]}],"mark":{"type":"point","shape":"M56.95 -18.09A59.75 26.17 -17.62 1 0 -56.95 18.09A59.75 26.17 -17.62 1 0 56.95 -18.09Z"}},{"mark":"circle"},{"transform":[{"regression":"PH","on":"SY_g"}],"mark":"line","encoding":{}}]},
{"encoding":{"x":{"field":"SY_kg","type":"quantitative","scale":{"domain":[1160,3175]},"axis":null},"y":{"field":"PH","type":"quantitative","scale":{"domain":[136,179]},"axis":null}},"layer":[{"transform":[{"aggregate":[{"op":"mean","field":"SY_kg","as":"SY_kg"},{"op":"mean","field":"PH","as":"PH"}]}],"mark":{"type":"point","shape":"M56.95 -18.09A59.75 26.17 -17.62 1 0 -56.95 18.09A59.75 26.17 -17.62 1 0 56.95 -18.09Z"}},{"mark":"circle"},{"transform":[{"regression":"PH","on":"SY_kg"}],"mark":"line","encoding":{}}]},
{"encoding":{"x":{"field":"BPP","type":"quantitative","scale":{"domain":[4.45,11.62]},"axis":null},"y":{"field":"PH","type":"quantitative","scale":{"domain":[136,179]},"axis":null}},"layer":[{"transform":[{"aggregate":[{"op":"mean","field":"BPP","as":"BPP"},{"op":"mean","field":"PH","as":"PH"}]}],"mark":{"type":"point","shape":"M57.01 -16.15A59.26 27.26 -15.82 1 0 -57.01 16.15A59.26 27.26 -15.82 1 0 57.01 -16.15Z"}},{"mark":"circle"},{"transform":[{"regression":"PH","on":"BPP"}],"mark":"line","encoding":{}}]},
{"data":{"name":"hist"},"transform":[{"filter":"datum.v=='PH'"}],"mark":"rect","encoding":{"x":{"field":"a","type":"quantitative","scale":{"domain":[144.42,172.78]},"axis":null},"x2":{"field":"b"},"y":{"field":"n","type":"quantitative","scale":{"domain":[-0.15,3.15]},"axis":null},"y2":{"datum":0}}},
{"data":{"values":[{"t":"r = 0.47\np = 0.079"}]},"mark":"text","encoding":{"text":{"field":"t"},"x":{"datum":0,"type":"quantitative","scale":{"domain":[-1,1]},"axis":null},"y":{"datum":0,"type":"quantitative","scale":{"domain":[-1,1]},"axis":null}}},
{"data":{"values":[{"t":"r = 0.39\np = 0.149"}]},"mark":"text","encoding":{"text":{"field":"t"},"x":{"datum":0,"type":"quantitative","scale":{"domain":[-1,1]},"axis":null},"y":{"datum":0,"type":"quantitative","scale":{"domain":[-1,1]},"axis":null}}},
{"data":{"values":[{"t":"r = 0.35\np = 0.198"}]},"mark":"text","encoding":{"text":{"field":"t"},"x":{"datum":0,"type":"quantitative","scale":{"domain":[-1,1]},"axis":null},"y":{"datum":0,"type":"quantitative","scale":{"domain":[-1,1]},"axis":null}}},
{"data":{"values":[{"t":"r = 0.5\np = 0.058"}]},"mark":"text","encoding":{"text":{"field":"t"},"x":{"datum":0,"type":"quantitative","scale":{"domain":[-1,1]},"axis":null},"y":{"datum":0,"type":"quantitative","scale":{"domain":[-1,1]},"axis":null}}},
{"width":9,"data":{"values":[{"t":"PH"}]},"mark":{"type":"text","fontSize":14,"angle":90,"dy":0},"encoding":{"text":{"field":"t"},"x":{"datum":0,"type":"quantitative","scale":{"domain":[-1,1]},"axis":null},"y":{"datum":0,"type":"quantitative","scale":{"domain":[-1,1]},"axis":null}}},

{"encoding":{"x":{"field":"DF","type":"quantitative","scale":{"domain":[38.4,59.5]},"axis":null},"y":{"field":"TSW","type":"quantitative","scale":{"domain":[3.96,5.48]},"axis":{"values":[4,4.5,5],"format":".1f","title":null}}},"layer":[{"transform":[{"aggregate":[{"op":"mean","field":"DF","as":"DF"},{"op":"mean","field":"TSW","as":"TSW"}]}],"mark":{"type":"point","shape":"M57.03 26.53A62.9 17.27 24.95 1 0 -57.03 -26.53A62.9 17.27 24.95 1 0 57.03 26.53Z"}},{"mark":"circle"},{"transform":[{"regression":"TSW","on":"DF"}],"mark":"line","encoding":{}}]},
{"encoding":{"x":{"field":"DM","type":"quantitative","scale":{"domain":[141.3,152.9]},"axis":null},"y":{"field":"TSW","type":"quantitative","scale":{"domain":[3.96,5.48]},"axis":null}},"layer":[{"transform":[{"aggregate":[{"op":"mean","field":"DM","as":"DM"},{"op":"mean","field":"TSW","as":"TSW"}]}],"mark":{"type":"point","shape":"M57.03 26.53A62.9 17.27 24.95 1 0 -57.03 -26.53A62.9 17.27 24.95 1 0 57.03 26.53Z"}},{"mark":"circle"},{"transform":[{"regression":"TSW","on":"DM"}],"mark":"line","encoding":{}}]},
{"encoding":{"x":{"field":"SY_g","type":"quantitative","scale":{"domain":[530,1438]},"axis":null},"y":{"field":"TSW","type":"quantitative","scale":{"domain":[3.96,5.48]},"axis":null}},"layer":[{"transform":[{"aggregate":[{"op":"mean","field":"SY_g","as":"SY_g"},{"op":"mean","field":"TSW","as":"TSW"}]}],"mark":{"type":"point","shape":"M57.31 -29.46A64.44 10.11 -27.21 1 0 -57.31 29.46A64.44 10.11 -27.21 1 0 57.31 -29.46Z"}},{"mark":"circle"},{"transform":[{"regression":"TSW","on":"SY_g"}],"mark":"line","encoding":{}}]},
{"encoding":{"x":{"field":"SY_kg","type":"quantitative","scale":{"domain":[1160,3175]},"axis":null},"y":{"field":"TSW","type":"quantitative","scale":{"domain":[3.96,5.48]},"axis":null}},"layer":[{"transform":[{"aggregate":[{"op":"mean","field":"SY_kg","as":"SY_kg"},{"op":"mean","field":"TSW","as":"TSW"}]}],"mark":{"type":"point","shape":"M57.31 -29.46A64.44 10.11 -27.21 1 0 -57.31 29.46A64.44 10.11 -27.21 1 0 57.31 -29.46Z"}},{"mark":"circle"},{"transform":[{"regression":"TSW","on":"SY_kg"}],"mark":"line","encoding":{}}]},
{"encoding":{"x":{"field":"BPP","type":"quantitative","scale":{"domain":[4.45,11.62]},"axis":null},"y":{"field":"TSW","type":"quantitative","scale":{"domain":[3.96,5.48]},"axis":null}},"layer":[{"transform":[{"aggregate":[{"op":"mean","field":"BPP","as":"BPP"},{"op":"mean","field":"TSW","as":"TSW"}]}],"mark":{"type":"point","shape":"M57.2 -28.46A63.89 13.18 -26.45 1 0 -57.2 28.46A63.89 13.18 -26.45 1 0 57.2 -28.46Z"}},{"mark":"circle"},{"transform":[{"regression":"TSW","on":"BPP"}],"mark":"line","encoding":{}}]},
{"encoding":{"x":{"field":"PH","type":"quantitative","scale":{"domain":[136,179]},"axis":null},"y":{"field":"TSW","type":"quantitative","scale":{"domain":[3.96,5.48]},"axis":null}},"layer":[{"transform":[{"aggregate":[{"op":"mean","field":"PH","as":"PH"},{"op":"mean","field":"TSW","as":"TSW"}]}],"mark":{"type":"point","shape":"M56.95 -18.09A59.75 26.17 -17.62 1 0 -56.95 18.09A59.75 26.17 -17.62 1 0 56.95 -18.09Z"}},{"mark":"circle"},{"transform":[{"regression":"TSW","on":"PH"}],"mark":"line","encoding":{}}]},
{"data":{"name":"hist"},"transform":[{"filter":"datum.v=='TSW'"}],"mark":"rect","encoding":{"x":{"field":"a","type":"quantitative","scale":{"domain":[4.314,5.256]},"axis":null},"x2":{"field":"b"},"y":{"field":"n","type":"quantitative","scale":{"domain":[-0.2,4.2]},"axis":null},"y2":{"datum":0}}},
{"data":{"values":[{"t":"r = 0.81***\np < 0.001"}]},"mark":"text","encoding":{"text":{"field":"t"},"x":{"datum":0,"type":"quantitative","scale":{"domain":[-1,1]},"axis":null},"y":{"datum":0,"type":"quantitative","scale":{"domain":[-1,1]},"axis":null}}},
{"data":{"values":[{"t":"r = 0.91***\np < 0.001"}]},"mark":"text","encoding":{"text":{"field":"t"},"x":{"datum":0,"type":"quantitative","scale":{"domain":[-1,1]},"axis":null},"y":{"datum":0,"type":"quantitative","scale":{"domain":[-1,1]},"axis":null}}},
{"data":{"values":[{"t":"r = 0.92***\np < 0.001"}]},"mark":"text","encoding":{"text":{"field":"t"},"x":{"datum":0,"type":"quantitative","scale":{"domain":[-1,1]},"axis":null},"y":{"datum":0,"type":"quantitative","scale":{"domain":[-1,1]},"axis":null}}},
{"width":9,"data":{"values":[{"t":"TSW"}]},"mark":{"type":"text","fontSize":14,"angle":90,"dy":0},"encoding":{"text":{"field":"t"},"x":{"datum":0,"type":"quantitative","scale":{"domain":[-1,1]},"axis":null},"y":{"datum":0,"type":"quantitative","scale":{"domain":[-1,1]},"axis":null}}},

{"encoding":{"x":{"field":"DF","type":"quantitative","scale":{"domain":[38.4,59.5]},"axis":null},"y":{"field":"OC","type":"quantitative","scale":{"domain":[36.3,41.35]},"axis":{"values":[37,38,39,40,41],"format":"d","title":null}}},"layer":[{"transform":[{"aggregate":[{"op":"mean","field":"DF","as":"DF"},{"op":"mean","field":"OC","as":"OC"}]}],"mark":{"type":"point","shape":"M56.93 24.18A61.85 20.73 23.02 1 0 -56.93 -24.18A61.85 20.73 23.02 1 0 56.93 24.18Z"}},{"mark":"circle"},{"transform":[{"regression":"OC","on":"DF"}],"mark":"line","encoding":{}}]},
{"encoding":{"x":{"field":"DM","type":"quantitative","scale":{"domain":[141.3,152.9]},"axis":null},"y":{"field":"OC","type":"quantitative","scale":{"domain":[36.3,41.35]},"axis":null}},"layer":[{"transform":[{"aggregate":[{"op":"mean","field":"DM","as":"DM"},{"op":"mean","field":"OC","as":"OC"}]}],"mark":{"type":"point","shape":"M56.9 23.18A61.44 21.91 22.17 1 0 -56.9 -23.18A61.44 21.91 22.17 1 0 56.9 23.18Z"}},{"mark":"circle"},{"transform":[{"regression":"OC","on":"DM"}],"mark":"line","encoding":{}}]},
{"encoding":{"x":{"field":"SY_g","type":"quantitative","scale":{"domain":[530,1438]},"axis":null},"y":{"field":"OC","type":"quantitative","scale":{"domain":[36.3,41.35]},"axis":null}},"layer":[{"transform":[{"aggregate":[{"op":"mean","field":"SY_g","as":"SY_g"},{"op":"mean","field":"OC","as":"OC"}]}],"mark":{"type":"point","shape":"M57.03 -26.53A62.9 17.27 -24.95 1 0 -57.03 26.53A62.9 17.27 -24.95 1 0 57.03 -26.53Z"}},{"mark":"circle"},{"transform":[{"regression":"OC","on":"SY_g"}],"mark":"line","encoding":{}}]},
{"encoding":{"x":{"field":"SY_kg","type":"quantitative","scale":{"domain":[1160,3175]},"axis":null},"y":{"field":"OC","type":"quantitative","scale":{"domain":[36.3,41.35]},"axis":null}},"layer":[{"transform":[{"aggregate":[{"op":"mean","field":"SY_kg","as":"SY_kg"},{"op":"mean","field":"OC","as":"OC"}]}],"mark":{"type":"point","shape":"M57.03 -26.53A62.9 17.27 -24.95 1 0 -57.03 26.53A62.9 17.27 -24.95 1 0 57.03 -26.53Z"}},{"mark":"circle"},{"transform":[{"regression":"OC","on":"SY_kg"}],"mark":"line","encoding":{}}]},
{"encoding":{"x":{"field":"BPP","type":"quantitative","scale":{"domain":[4.45,11.62]},"axis":null},"y":{"field":"OC","type":"quantitative","scale":{"domain":[36.3,41.35]},"axis":null}},"layer":[{"transform":[{"aggregate":[{"op":"mean","field":"BPP","as":"BPP"},{"op":"mean","field":"OC","as":"OC"}]}],"mark":{"type":"point","shape":"M56.93 -24.43A61.95 20.42 -23.23 1 0 -56.93 24.43A61.95 20.42 -23.23 1 0 56.93 -24.43Z"}},{"mark":"circle"},{"transform":[{"regression":"OC","on":"BPP"}],"mark":"line","encoding":{}}]},
{"encoding":{"x":{"field":"PH","type":"quantitative","scale":{"domain":[136,179]},"axis":null},"y":{"field":"OC","type":"quantitative","scale":{"domain":[36.3,41.35]},"axis":null}},"layer":[{"transform":[{"aggregate":[{"op":"mean","field":"PH","as":"PH"},{"op":"mean","field":"OC","as":"OC"}]}],"mark":{"type":"point","shape":"M57.05 -15.49A59.11 27.6 -15.19 1 0 -57.05 15.49A59.11 27.6 -15.19 1 0 57.05 -15.49Z"}},{"mark":"circle"},{"transform":[{"regression":"OC","on":"PH"}],"mark":"line","encoding":{}}]},
{"encoding":{"x":{"field":"TSW","type":"quantitative","scale":{"domain":[3.96,5.48]},"axis":null},"y":{"field":"OC","type":"quantitative","scale":{"domain":[36.3,41.35]},"axis":null}},"layer":[{"transform":[{"aggregate":[{"op":"mean","field":"TSW","as":"TSW"},{"op":"mean","field":"OC","as":"OC"}]}],"mark":{"type":"point","shape":"M57.07 -26.98A63.12 16.46 -25.3 1 0 -57.07 26.98A63.12 16.46 -25.3 1 0 57.07 -26.98Z"}},{"mark":"circle"},{"transform":[{"regression":"OC","on":"TSW"}],"mark":"line","encoding":{}}]},
{"data":{"name":"hist"},"transform":[{"filter":"datum.v=='OC'"}],"mark":"rect","encoding":{"x":{"field":"a","type":"quantitative","scale":{"domain":[37.114,40.476]},"axis":null},"x2":{"field":"b"},"y":{"field":"n","type":"quantitative","scale":{"domain":[-0.2,4.2]},"axis":null},"y2":{"datum":0}}},
{"data":{"values":[{"t":"r = 0.66**\np = 0.007"}]},"mark":"text","encoding":{"text":{"field":"t"},"x":{"datum":0,"type":"quantitative","scale":{"domain":[-1,1]},"axis":null},"y":{"datum":0,"type":"quantitative","scale":{"domain":[-1,1]},"axis":null}}},
{"data":{"values":[{"t":"r = 0.81***\np < 0.001"}]},"mark":"text","encoding":{"text":{"field":"t"},"x":{"datum":0,"type":"quantitative","scale":{"domain":[-1,1]},"axis":null},"y":{"datum":0,"type":"quantitative","scale":{"domain":[-1,1]},"axis":null}}},
{"width":9,"data":{"values":[{"t":"OC"}]},"mark":{"type":"text","fontSize":14,"angle":90,"dy":0},"encoding":{"text":{"field":"t"},"x":{"datum":0,"type":"quantitative","scale":{"domain":[-1,1]},"axis":null},"y":{"datum":0,"type":"quantitative","scale":{"domain":[-1,1]},"axis":null}}},

{"encoding":{"x":{"field":"DF","type":"quantitative","scale":{"domain":[38.4,59.5]},"axis":null},"y":{"field":"OA","type":"quantitative","scale":{"domain":[17.9,24.1]},"axis":{"values":[18,20,22],"format":"d","title":null}}},"layer":[{"transform":[{"aggregate":[{"op":"mean","field":"DF","as":"DF"},{"op":"mean","field":"OA","as":"OA"}]}],"mark":{"type":"point","shape":"M56.99 25.62A62.48 18.76 24.21 1 0 -56.99 -25.62A62.48 18.76 24.21 1 0 56.99 25.62Z"}},{"mark":"circle"},{"transform":[{"regression":"OA","on":"DF"}],"mark":"line","encoding":{}}]},
{"encoding":{"x":{"field":"DM","type":"quantitative","scale":{"domain":[141.3,152.9]},"axis":null},"y":{"field":"OA","type":"quantitative","scale":{"domain":[17.9,24.1]},"axis":null}},"layer":[{"transform":[{"aggregate":[{"op":"mean","field":"DM","as":"DM"},{"op":"mean","field":"OA","as":"OA"}]}],"mark":{"type":"point","shape":"M57.02 26.31A62.8 17.65 24.77 1 0 -57.02 -26.31A62.8 17.65 24.77 1 0 57.02 26.31Z"}},{"mark":"circle"},{"transform":[{"regression":"OA","on":"DM"}],"mark":"line","encoding":{}}]},
{"encoding":{"x":{"field":"SY_g","type":"quantitative","scale":{"domain":[530,1438]},"axis":null},"y":{"field":"OA","type":"quantitative","scale":{"domain":[17.9,24.1]},"axis":null}},"layer":[{"transform":[{"aggregate":[{"op":"mean","field":"SY_g","as":"SY_g"},{"op":"mean","field":"OA","as":"OA"}]}],"mark":{"type":"point","shape":"M56.96 -25.14A62.26 19.45 -23.82 1 0 -56.96 25.14A62.26 19.45 -23.82 1 0 56.96 -25.14Z"}},{"mark":"circle"},{"transform":[{"regression":"OA","on":"SY_g"}],"mark":"line","encoding":{}}]},
{"encoding":{"x":{"field":"SY_kg","type":"quantitative","scale":{"domain":[1160,3175]},"axis":null},"y":{"field":"OA","type":"quantitative","scale":{"domain":[17.9,24.1]},"axis":null}},"layer":[{"transform":[{"aggregate":[{"op":"mean","field":"SY_kg","as":"SY_kg"},{"op":"mean","field":"OA","as":"OA"}]}],"mark":{"type":"point","shape":"M56.96 -25.14A62.26 19.45 -23.82 1 0 -56.96 25.14A62.26 19.45 -23.82 1 0 56.96 -25.14Z"}},{"mark":"circle"},{"transform":[{"regression":"OA","on":"SY_kg"}],"mark":"line","encoding":{}}]},
{"encoding":{"x":{"field":"BPP","type":"quantitative","scale":{"domain":[4.45,11.62]},"axis":null},"y":{"field":"OA","type":"quantitative","scale":{"domain":[17.9,24.1]},"axis":null}},"layer":[{"transform":[{"aggregate":[{"op":"mean","field":"BPP","as":"BPP"},{"op":"mean","field":"OA","as":"OA"}]}],"mark":{"type":"point","shape":"M56.97 -25.38A62.37 19.1 -24.02 1 0 -56.97 25.38A62.37 19.1 -24.02 1 0 56.97 -25.38Z"}},{"mark":"circle"},{"transform":[{"regression":"OA","on":"BPP"}],"mark":"line","encoding":{}}]},
{"encoding":{"x":{"field":"PH","type":"quantitative","scale":{"domain":[136,179]},"axis":null},"y":{"field":"OA","type":"quantitative","scale":{"domain":[17.9,24.1]},"axis":null}},"layer":[{"transform":[{"aggregate":[{"op":"mean","field":"PH","as":"PH"},{"op":"mean","field":"OA","as":"OA"}]}],"mark":{"type":"point","shape":"M57.09 -14.1A58.81 28.21 -13.87 1 0 -57.09 14.1A58.81 28.21 -13.87 1 0 57.09 -14.1Z"}},{"mark":"circle"},{"transform":[{"regression":"OA","on":"PH"}],"mark":"line","encoding":{}}]},
{"encoding":{"x":{"field":"TSW","type":"quantitative","scale":{"domain":[3.96,5.48]},"axis":null},"y":{"field":"OA","type":"quantitative","scale":{"domain":[17.9,24.1]},"axis":null}},"layer":[{"transform":[{"aggregate":[{"op":"mean","field":"TSW","as":"TSW"},{"op":"mean","field":"OA","as":"OA"}]}],"mark":{"type":"point","shape":"M57.26 -29.07A64.22 11.45 -26.92 1 0 -57.26 29.07A64.22 11.45 -26.92 1 0 57.26 -29.07Z"}},{"mark":"circle"},{"transform":[{"regression":"OA","on":"TSW"}],"mark":"line","encoding":{}}]},
{"encoding":{"x":{"field":"OC","type":"quantitative","scale":{"domain":[36.3,41.35]},"axis":null},"y":{"field":"OA","type":"quantitative","scale":{"domain":[17.9,24.1]},"axis":null}},"layer":[{"transform":[{"aggregate":[{"op":"mean","field":"OC","as":"OC"},{"op":"mean","field":"OA","as":"OA"}]}],"mark":{"type":"point","shape":"M56.91 -23.43A61.54 21.62 -22.38 1 0 -56.91 23.43A61.54 21.62 -22.38 1 0 56.91 -23.43Z"}},{"mark":"circle"},{"transform":[{"regression":"OA","on":"OC"}],"mark":"line","encoding":{}}]},
{"data":{"name":"hist"},"transform":[{"filter":"datum.v=='OA'"}],"mark":"rect","encoding":{"x":{"field":"a","type":"quantitative","scale":{"domain":[19.322,23.258]},"axis":null},"x2":{"field":"b"},"y":{"field":"n","type":"quantitative","scale":{"domain":[-0.2,4.2]},"axis":null},"y2":{"datum":0}}},
{"data":{"values":[{"t":"r = 0.81***\np < 0.001"}]},"mark":"text","encoding":{"text":{"field":"t"},"x":{"datum":0,"type":"quantitative","scale":{"domain":[-1,1]},"axis":null},"y":{"datum":0,"type":"quantitative","scale":{"domain":[-1,1]},"axis":null}}},
{"width":9,"data":{"values":[{"t":"OA"}]},"mark":{"type":"text","fontSize":14,"angle":90,"dy":0},"encoding":{"text":{"field":"t"},"x":{"datum":0,"type":"quantitative","scale":{"domain":[-1,1]},"axis":null},"y":{"datum":0,"type":"quantitative","scale":{"domain":[-1,1]},"axis":null}}},

{"encoding":{"x":{"field":"DF","type":"quantitative","scale":{"domain":[38.4,59.5]},"axis":{"values":[40,45,50,55],"format":"d","title":null}},"y":{"field":"SFA","type":"quantitative","scale":{"domain":[5.2,7.37]},"axis":{"values":[5.5,6,6.5,7],"format":".1f","title":null}}},"layer":[{"transform":[{"aggregate":[{"op":"mean","field":"DF","as":"DF"},{"op":"mean","field":"SFA","as":"SFA"}]}],"mark":{"type":"point","shape":"M56.95 24.91A62.16 19.78 23.63 1 0 -56.95 -24.91A62.16 19.78 23.63 1 0 56.95 24.91Z"}},{"mark":"circle"},{"transform":[{"regression":"SFA","on":"DF"}],"mark":"line","encoding":{}}]},
{"encoding":{"x":{"field":"DM","type":"quantitative","scale":{"domain":[141.3,152.9]},"axis":{"values":[144,147,150],"format":"d","title":null}},"y":{"field":"SFA","type":"quantitative","scale":{"domain":[5.2,7.37]},"axis":null}},"layer":[{"transform":[{"aggregate":[{"op":"mean","field":"DM","as":"DM"},{"op":"mean","field":"SFA","as":"SFA"}]}],"mark":{"type":"point","shape":"M56.93 24.43A61.95 20.42 23.23 1 0 -56.93 -24.43A61.95 20.42 23.23 1 0 56.93 24.43Z"}},{"mark":"circle"},{"transform":[{"regression":"SFA","on":"DM"}],"mark":"line","encoding":{}}]},
{"encoding":{"x":{"field":"SY_g","type":"quantitative","scale":{"domain":[530,1438]},"axis":{"values":[750,1000,1250],"format":"d","title":null}},"y":{"field":"SFA","type":"quantitative","scale":{"domain":[5.2,7.37]},"axis":null}},"layer":[{"transform":[{"aggregate":[{"op":"mean","field":"SY_g","as":"SY_g"},{"op":"mean","field":"SFA","as":"SFA"}]}],"mark":{"type":"point","shape":"M57.29 -29.26A64.33 10.8 -27.06 1 0 -57.29 29.26A64.33 10.8 -27.06 1 0 57.29 -29.26Z"}},{"mark":"circle"},{"transform":[{"regression":"SFA","on":"SY_g"}],"mark":"line","encoding":{}}]},
{"encoding":{"x":{"field":"SY_kg","type":"quantitative","scale":{"domain":[1160,3175]},"axis":{"values":[1500,2000,2500,3000],"format":"d","title":null}},"y":{"field":"SFA","type":"quantitative","scale":{"domain":[5.2,7.37]},"axis":null}},"layer":[{"transform":[{"aggregate":[{"op":"mean","field":"SY_kg","as":"SY_kg"},{"op":"mean","field":"SFA","as":"SFA"}]}],"mark":{"type":"point","shape":"M57.29 -29.26A64.33 10.8 -27.06 1 0 -57.29 29.26A64.33 10.8 -27.06 1 0 57.29 -29.26Z"}},{"mark":"circle"},{"transform":[{"regression":"SFA","on":"SY_kg"}],"mark":"line","encoding":{}}]},
{"encoding":{"x":{"field":"BPP","type":"quantitative","scale":{"domain":[4.45,11.62]},"axis":{"values":[6,8,10],"format":"d","title":null}},"y":{"field":"SFA","type":"quantitative","scale":{"domain":[5.2,7.37]},"axis":null}},"layer":[{"transform":[{"aggregate":[{"op":"mean","field":"BPP","as":"BPP"},{"op":"mean","field":"SFA","as":"SFA"}]}],"mark":{"type":"point","shape":"M57.01 -26.08A62.69 18.03 -24.58 1 0 -57.01 26.08A62.69 18.03 -24.58 1 0 57.01 -26.08Z"}},{"mark":"circle"},{"transform":[{"regression":"SFA","on":"BPP"}],"mark":"line","encoding":{}}]},
{"encoding":{"x":{"field":"PH","type":"quantitative","scale":{"domain":[136,179]},"axis":{"values":[140,150,160,170],"format":"d","title":null}},"y":{"field":"SFA","type":"quantitative","scale":{"domain":[5.2,7.37]},"axis":null}},"layer":[{"transform":[{"aggregate":[{"op":"mean","field":"PH","as":"PH"},{"op":"mean","field":"SFA","as":"SFA"}]}],"mark":{"type":"point","shape":"M56.92 -19A60.01 25.56 -18.46 1 0 -56.92 19A60.01 25.56 -18.46 1 0 56.92 -19Z"}},{"mark":"circle"},{"transform":[{"regression":"SFA","on":"PH"}],"mark":"line","encoding":{}}]},
{"encoding":{"x":{"field":"TSW","type":"quantitative","scale":{"domain":[3.96,5.48]},"axis":{"values":[4,4.5,5],"format":".1f","title":null}},"y":{"field":"SFA","type":"quantitative","scale":{"domain":[5.2,7.37]},"axis":null}},"layer":[{"transform":[{"aggregate":[{"op":"mean","field":"TSW","as":"TSW"},{"op":"mean","field":"SFA","as":"SFA"}]}],"mark":{"type":"point","shape":"M57.29 -29.26A64.33 10.8 -27.06 1 0 -57.29 29.26A64.33 10.8 -27.06 1 0 57.29 -29.26Z"}},{"mark":"circle"},{"transform":[{"regression":"SFA","on":"TSW"}],"mark":"line","encoding":{}}]},
{"encoding":{"x":{"field":"OC","type":"quantitative","scale":{"domain":[36.3,41.35]},"axis":{"values":[37,38,39,40,41],"format":"d","title":null}},"y":{"field":"SFA","type":"quantitative","scale":{"domain":[5.2,7.37]},"axis":null}},"layer":[{"transform":[{"aggregate":[{"op":"mean","field":"OC","as":"OC"},{"op":"mean","field":"SFA","as":"SFA"}]}],"mark":{"type":"point","shape":"M57.07 -26.98A63.12 16.46 -25.3 1 0 -57.07 26.98A63.12 16.46 -25.3 1 0 57.07 -26.98Z"}},{"mark":"circle"},{"transform":[{"regression":"SFA","on":"OC"}],"mark":"line","encoding":{}}]},
{"encoding":{"x":{"field":"OA","type":"quantitative","scale":{"domain":[17.9,24.1]},"axis":{"values":[18,20,22],"format":"d","title":null}},"y":{"field":"SFA","type":"quantitative","scale":{"domain":[5.2,7.37]},"axis":null}},"layer":[{"transform":[{"aggregate":[{"op":"mean","field":"OA","as":"OA"},{"op":"mean","field":"SFA","as":"SFA"}]}],"mark":{"type":"point","shape":"M57.07 -26.98A63.12 16.46 -25.3 1 0 -57.07 26.98A63.12 16.46 -25.3 1 0 57.07 -26.98Z"}},{"mark":"circle"},{"transform":[{"regression":"SFA","on":"OA"}],"mark":"line","encoding":{}}]},
{"data":{"name":"hist"},"transform":[{"filter":"datum.v=='SFA'"}],"mark":"rect","encoding":{"x":{"field":"a","type":"quantitative","scale":{"domain":[5.509,6.951]},"axis":{"values":[6,6.5],"format":".1f","title":null}},"x2":{"field":"b"},"y":{"field":"n","type":"quantitative","scale":{"domain":[-0.1,2.1]},"axis":null},"y2":{"datum":0}}},
{"width":9,"data":{"values":[{"t":"SFA"}]},"mark":{"type":"text","fontSize":14,"angle":90,"dy":0},"encoding":{"text":{"field":"t"},"x":{"datum":0,"type":"quantitative","scale":{"domain":[-1,1]},"axis":null},"y":{"datum":0,"type":"quantitative","scale":{"domain":[-1,1]},"axis":null}}}
],
"config": {
"view": {"stroke": "#333333", "strokeWidth": 1, "continuousWidth": 127, "continuousHeight": 68},
"axis": {"grid": false, "domain": false, "tickSize": 3, "tickColor": "#333333", "labelFont": "Liberation Sans", "labelFontSize": 9, "labelColor": "#4d4d4d", "labelPadding": 1.5},
"axisX": {"labelAngle": 0},
"circle": {"size": 26, "color": "#111111", "opacity": 1},
"line": {"color": "#ee0000", "strokeWidth": 1.5},
"point": {"filled": false, "color": "#5a5a5a", "stroke": "#5a5a5a", "strokeWidth": 1.3, "size": 4, "opacity": 1},
"rect": {"color": "#cc1111", "fill": "#cc1111", "stroke": "#222222", "strokeWidth": 0.8, "opacity": 1},
"text": {"font": "Liberation Sans", "fontWeight": "bold", "fontSize": 15.5, "color": "#1a1a1a", "lineBreak": "\n", "lineHeight": 24, "dy": -12}
}
}
